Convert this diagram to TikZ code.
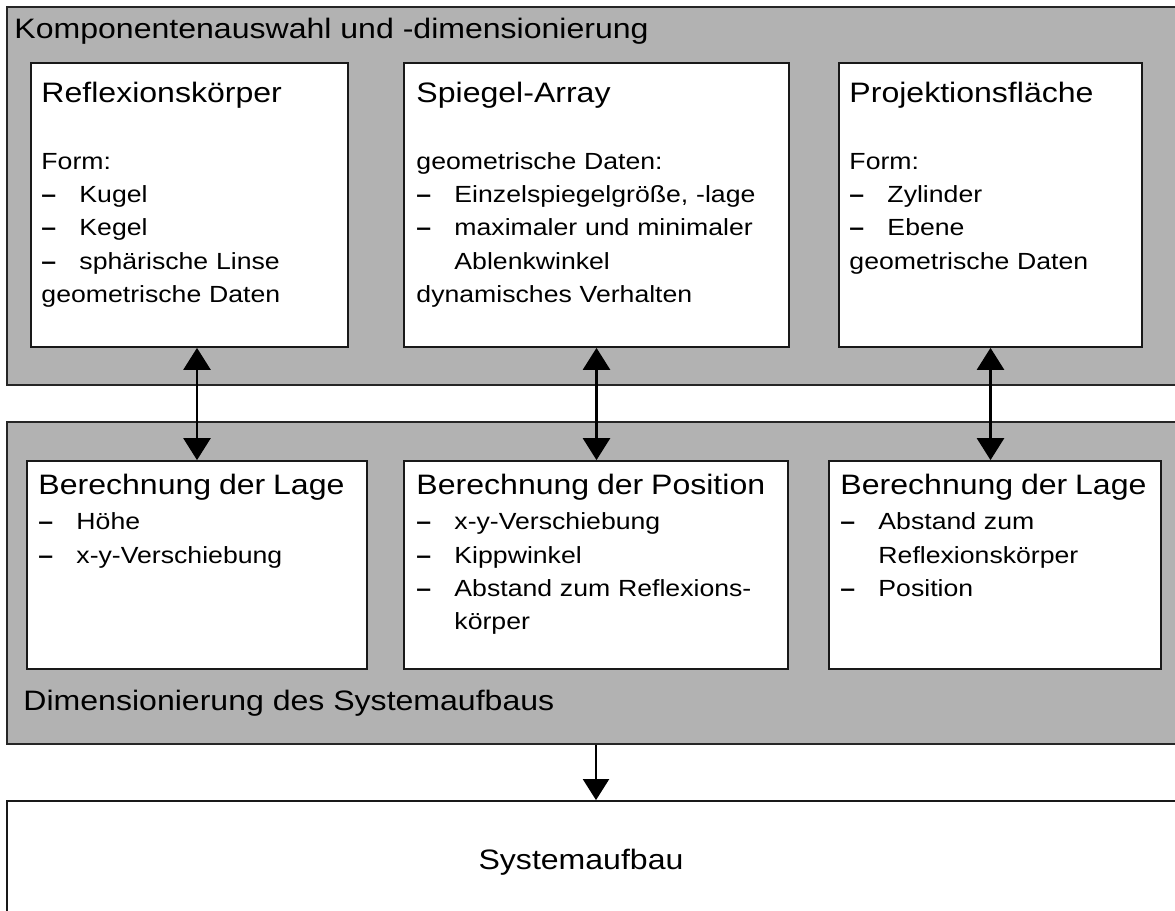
\documentclass[tikz,border=0pt]{standalone}
\usepackage{fontspec}
\setmainfont{Liberation Sans}[FakeStretch=1.14]
\usetikzlibrary{arrows.meta,fit}

\newcommand{\hdfont}{\fontsize{16pt}{19pt}\selectfont}
\newcommand{\txtfont}{\fontsize{13.3pt}{18.9pt}\selectfont}
\newcommand{\itm}{\makebox[0.76cm][l]{\bfseries –}}
\newcommand{\ind}{\hspace*{0.76cm}}

\tikzset{
  panel/.style={draw=black!85, fill=black!30, line width=1pt, inner sep=0pt},
  box/.style={draw=black!90, fill=white, line width=1pt, inner sep=0pt},
  boxtext/.style={anchor=north west, inner sep=0pt, text width=9cm, align=left, font=\txtfont},
  head/.style={anchor=base west, inner sep=0pt, font=\hdfont},
  link/.style={{Triangle[length=0.44cm,width=0.54cm]}-{Triangle[length=0.44cm,width=0.54cm]}, line width=1.5pt},
  flow/.style={-{Triangle[length=0.42cm,width=0.52cm]}, line width=1.2pt}
}

\begin{document}
\begin{tikzpicture}[x=0.02cm, y=-0.02cm]
  \useasboundingbox (0,0) rectangle (1175,911);
  \clip (0,0) rectangle (1175,911);

  \node[panel, fit={(7,7) (1190,385)}]   (comp) {};
  \node[panel, fit={(7,422) (1190,744)}] (dim) {};
  \node[box, fit={(7,801) (1190,930)}]   (sys) {};

  \node[head] (comptitle) at ([shift={(8,32)}]comp.north west) {Komponentenauswahl und -dimensionierung};
  \node[head] (dimtitle) at ([shift={(17,-34)}]dim.south west) {Dimensionierung des Systemaufbaus};
  \node[anchor=base, inner sep=0pt, font=\hdfont] (systitle) at (581,869) {Systemaufbau};

  \node[box, fit={(31,63) (348,347)}]   (refl) {};
  \node[box, fit={(404,63) (789,347)}]  (mirror) {};
  \node[box, fit={(839,63) (1142,347)}] (screen) {};

  \node[box, fit={(27,461) (367,669)}]   (height) {};
  \node[box, fit={(404,461) (788,669)}]  (place) {};
  \node[box, fit={(829,461) (1161,669)}] (dist) {};

  \node[boxtext] (refltxt) at ([shift={(11,20)}]refl.north west)
    {{\hdfont Reflexionskörper}\\[19pt]
     Form:\\
     \itm Kugel\\
     \itm Kegel\\
     \itm sphärische Linse\\
     geometrische Daten};
  \node[boxtext] (mirrortxt) at ([shift={(13,20)}]mirror.north west)
    {{\hdfont Spiegel-Array}\\[19pt]
     geometrische Daten:\\
     \itm Einzelspiegelgröße, -lage\\
     \itm maximaler und minimaler\\
     \ind Ablenkwinkel\\
     dynamisches Verhalten};
  \node[boxtext] (screentxt) at ([shift={(11,20)}]screen.north west)
    {{\hdfont Projektionsfläche}\\[19pt]
     Form:\\
     \itm Zylinder\\
     \itm Ebene\\
     geometrische Daten};

  \node[boxtext] (heighttxt) at ([shift={(12,14)}]height.north west)
    {{\hdfont Berechnung der Lage}\\[1pt]
     \itm Höhe\\
     \itm x-y-Verschiebung};
  \node[boxtext] (placetxt) at ([shift={(13,14)}]place.north west)
    {{\hdfont Berechnung der Position}\\[1pt]
     \itm x-y-Verschiebung\\
     \itm Kippwinkel\\
     \itm Abstand zum Reflexions-\\
     \ind körper};
  \node[boxtext] (disttxt) at ([shift={(12,14)}]dist.north west)
    {{\hdfont Berechnung der Lage}\\[1pt]
     \itm Abstand zum\\
     \ind Reflexionskörper\\
     \itm Position};

  \draw[link] (height.north |- refl.south) -- (height.north);
  \draw[link] (mirror.south) -- (mirror.south |- place.north);
  \draw[link] (screen.south) -- (screen.south |- dist.north);
  \draw[flow] (place.south |- dim.south) -- (place.south |- sys.north);
\end{tikzpicture}
\end{document}
